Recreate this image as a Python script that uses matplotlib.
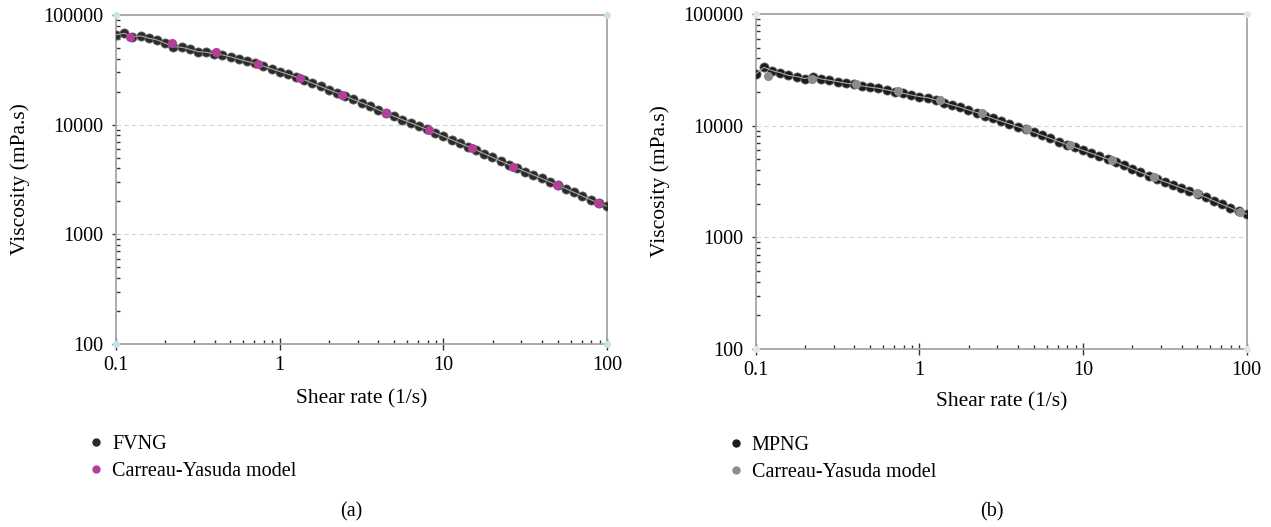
import numpy as np
import matplotlib
matplotlib.use("Agg")
import matplotlib.pyplot as plt
from matplotlib.ticker import LogLocator, FixedFormatter, FixedLocator, NullFormatter
from matplotlib.lines import Line2D

plt.rcParams['font.family'] = ['Liberation Serif', 'DejaVu Serif']

# measured shear rates, 20 points per decade from 0.1 to 100 1/s
shear = np.logspace(-1, 2, 61)

fvng = [65800, 68100, 63400, 64400, 61400, 59200, 55200, 51400, 50800, 48700,
        46300, 45700, 44100, 43200, 41500, 39500, 37800, 36100, 34200, 32300,
        30500, 28800, 27200, 25600, 23900, 22300, 20800, 19500, 18200, 17000,
        15800, 14800, 13700, 12800, 11900, 11100, 10400, 9700, 9040, 8410,
        7830, 7290, 6790, 6310, 5860, 5430, 5030, 4660, 4320, 4010,
        3730, 3480, 3240, 3010, 2800, 2600, 2410, 2230, 2070, 1920, 1800]

mpng = [29000, 33300, 31100, 29800, 28200, 27500, 26400, 27500, 26200, 25500,
        24800, 24000, 23500, 22700, 22100, 21600, 20900, 20200, 19500, 18800,
        18200, 17800, 17000, 16100, 15300, 14600, 13800, 13100, 12300, 11600,
        10960, 10370, 9790, 9250, 8710, 8180, 7690, 7210, 6760, 6380,
        6010, 5660, 5330, 5020, 4720, 4400, 4100, 3820, 3570, 3340,
        3140, 2950, 2770, 2600, 2440, 2280, 2120, 1970, 1840, 1710, 1620]

# Carreau-Yasuda fit points
cy_a_x = [0.122, 0.219, 0.406, 0.733, 1.33, 2.39, 4.44, 8.17, 14.9, 26.7, 49.2, 88.3]
cy_a_y = [62700, 55200, 45700, 35600, 26500, 18700, 12850, 8890, 6090, 4140, 2840, 1930]
cy_b_x = [0.119, 0.22, 0.408, 0.736, 1.33, 2.42, 4.52, 8.32, 15.1, 27.1, 49.4, 90.8]
cy_b_y = [27900, 26400, 23600, 20600, 17000, 12900, 9400, 6710, 4930, 3450, 2480, 1700]

y_ticks = [100, 1000, 10000, 100000]
y_labels = ['100', '1000', '10000', '100000']
x_ticks = [0.1, 1, 10, 100]
x_labels = ['0.1', '1', '10', '100']

fig = plt.figure(figsize=(12.71, 5.27), dpi=100)
ax1 = fig.add_axes([0.0913, 0.3473, 0.3863, 0.6243])
ax2 = fig.add_axes([0.5946, 0.3378, 0.3863, 0.6357])

# axes, data, colours, names, and offsets (axes fraction) for the texts below
panels = [
    (ax1, fvng, '#2b2b2b', cy_a_x, cy_a_y, '#b2409b', 'FVNG', '(a)', '#c4e3ea',
     -0.137, -0.277, -0.51),
    (ax2, mpng, '#1c1c1c', cy_b_x, cy_b_y, '#8c8c8c', 'MPNG', '(b)', '#e6e6e6',
     -0.13, -0.26, -0.487),
]

for (ax, data, c_data, mx, my, c_model, name, tag, c_corner,
     xlab_y, leg_y, tag_y) in panels:
    ax.set_xscale('log')
    ax.set_yscale('log')
    ax.set_xlim(0.1, 100)
    ax.set_ylim(100, 100000)

    ax.plot(shear, data, 'o', ms=6.6, color=c_data, mec='#6a6a6a', mew=0.6, zorder=3)
    ax.plot(shear, data, '-', color='#a8a8a8', lw=0.8, zorder=4)
    ax.plot(mx, my, 'o', ms=6.6, color=c_model, mec=c_model, mew=0, zorder=5)

    ax.yaxis.set_major_locator(FixedLocator(y_ticks))
    ax.yaxis.set_major_formatter(FixedFormatter(y_labels))
    ax.yaxis.set_minor_locator(LogLocator(base=10, subs=np.arange(2, 10)))
    ax.yaxis.set_minor_formatter(NullFormatter())
    ax.xaxis.set_major_locator(FixedLocator(x_ticks))
    ax.xaxis.set_major_formatter(FixedFormatter(x_labels))
    ax.xaxis.set_minor_locator(LogLocator(base=10, subs=np.arange(2, 10)))
    ax.xaxis.set_minor_formatter(NullFormatter())

    ax.tick_params(axis='y', which='major', direction='out', length=3, width=1,
                   color='#333333', labelsize=14.5, pad=6)
    ax.tick_params(axis='y', which='minor', direction='in', length=3, width=1,
                   color='#333333')
    ax.tick_params(axis='x', which='major', direction='inout', length=8, width=1,
                   color='#333333', labelsize=14.5, pad=5)
    ax.tick_params(axis='x', which='minor', direction='in', length=3, width=1,
                   color='#333333')

    ax.yaxis.grid(True, which='major', ls=(0, (4, 3)), color='#d4d4d4', lw=0.8)
    ax.set_axisbelow(True)

    for s in ax.spines.values():
        s.set_color('#a6a6a6')
        s.set_linewidth(1.3)

    ax.plot([0, 1, 0, 1], [0, 0, 1, 1], 'o', ms=4, color=c_corner,
            transform=ax.transAxes, clip_on=False, zorder=6)

    ax.set_ylabel('Viscosity (mPa.s)', fontsize=15.5)
    ax.yaxis.set_label_coords(-0.175, 0.5)
    ax.set_xlabel('Shear rate (1/s)', fontsize=15.5)
    ax.xaxis.set_label_coords(0.5, xlab_y)

    handles = [
        Line2D([], [], ls='none', marker='o', ms=5, color=c_data),
        Line2D([], [], ls='none', marker='o', ms=5, color=c_model),
    ]
    ax.legend(handles, [name, 'Carreau-Yasuda model'], loc='upper left',
              bbox_to_anchor=(-0.057, leg_y), frameon=False, fontsize=14.5,
              handlelength=0.8, handletextpad=0.4, labelspacing=0.4,
              borderpad=0, borderaxespad=0)

    ax.text(0.48, tag_y, tag, transform=ax.transAxes, ha='center', va='center',
            fontsize=14.5)

fig.savefig('out.png', dpi=100)
